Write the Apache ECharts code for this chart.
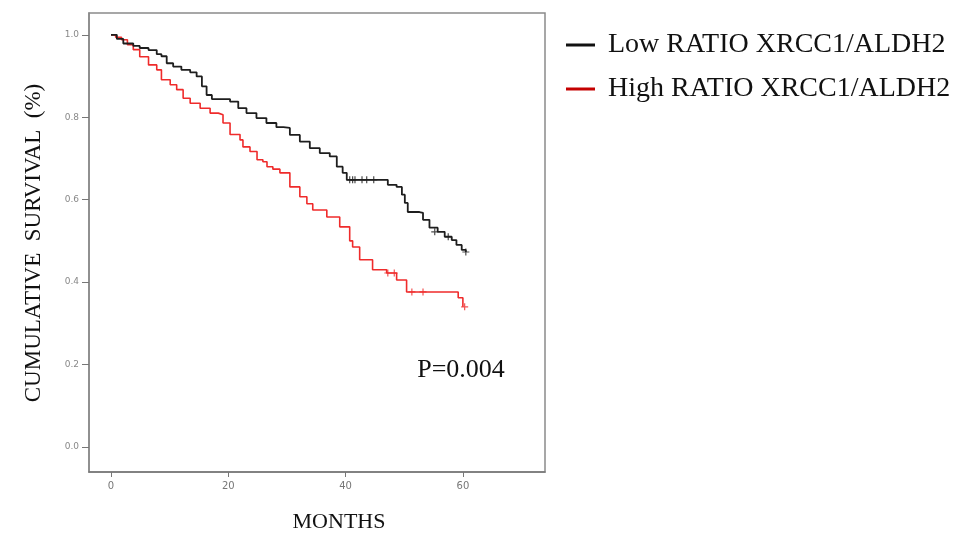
<!DOCTYPE html>
<html>
<head>
<meta charset="utf-8">
<script src="https://cdn.jsdelivr.net/npm/echarts@6/dist/echarts.min.js"></script>
<style>
html,body{margin:0;padding:0;background:#fff;}
#chart{width:962px;height:534px;}
</style>
</head>
<body>
<div id="chart"></div>
<script>
// Months (x) and cumulative survival (y)
var lowMonths = [0, 1.0, 2.1, 3.8, 4.9, 6.4, 7.8, 8.6, 9.5, 10.6, 12.0, 13.5, 14.6, 15.5, 16.3, 17.2, 20.3, 21.7, 23.1, 24.8, 26.5, 28.2, 29.4, 30.5, 32.2, 33.9, 35.6, 37.3, 38.5, 39.5, 40.2, 47.2, 48.7, 49.6, 50.1, 50.6, 52.6, 53.2, 54.3, 55.7, 56.9, 58.1, 58.9, 59.8, 60.5];
var lowSurv   = [1.0, 0.990, 0.979, 0.973, 0.968, 0.963, 0.953, 0.948, 0.931, 0.923, 0.915, 0.909, 0.899, 0.875, 0.854, 0.844, 0.838, 0.822, 0.810, 0.798, 0.786, 0.776, 0.774, 0.757, 0.741, 0.725, 0.713, 0.705, 0.680, 0.665, 0.648, 0.636, 0.631, 0.612, 0.592, 0.570, 0.568, 0.551, 0.532, 0.522, 0.510, 0.502, 0.490, 0.478, 0.473];
var highMonths = [0, 0.8, 1.8, 2.8, 3.8, 4.9, 6.4, 7.8, 8.6, 10.1, 11.2, 12.3, 13.5, 15.2, 16.9, 18.3, 19.1, 20.3, 22.0, 22.5, 23.7, 24.9, 25.9, 26.6, 27.6, 28.8, 30.5, 32.2, 33.4, 34.4, 36.8, 39.0, 40.7, 41.2, 42.4, 44.6, 47.0, 48.7, 50.4, 59.2, 60.0];
var highSurv   = [1.0, 0.994, 0.988, 0.976, 0.964, 0.947, 0.927, 0.915, 0.891, 0.879, 0.867, 0.846, 0.834, 0.822, 0.810, 0.806, 0.786, 0.758, 0.745, 0.728, 0.717, 0.697, 0.692, 0.680, 0.674, 0.665, 0.631, 0.607, 0.590, 0.575, 0.558, 0.534, 0.500, 0.485, 0.454, 0.430, 0.422, 0.405, 0.376, 0.362, 0.340];
// Censored observations
var lowCensMonths = [40.7, 41.2, 41.6, 42.8, 43.6, 44.8, 55.2, 57.5, 60.5];
var lowCensSurv   = [0.648, 0.648, 0.648, 0.648, 0.648, 0.648, 0.522, 0.510, 0.473];
var highCensMonths = [47.2, 48.3, 51.3, 53.2, 60.3];
var highCensSurv   = [0.422, 0.422, 0.376, 0.376, 0.340];
var xTicks = [0, 20, 40, 60];
var yTicks = [0, 0.2, 0.4, 0.6, 0.8, 1.0];
var seriesNames = ['Low RATIO XRCC1/ALDH2', 'High RATIO XRCC1/ALDH2'];

function pairs(xs, ys){ return xs.map(function(x,i){ return [x, ys[i]]; }); }

var BLACK = '#1e1e1e', RED = '#ef2b2b';
var plus = 'path://M0,5L10,5M5,0L5,10';
var chart = echarts.init(document.getElementById('chart'), null, {renderer:'canvas'});
chart.setOption({
  animation: false,
  backgroundColor: '#fff',
  grid: {left: 89, right: 417, top: 13, bottom: 62, show: true, borderColor: '#8a8a8a', borderWidth: 1.5},
  legend: {
    orient: 'vertical', left: 561, top: 26, itemGap: 16,
    itemWidth: 29, itemHeight: 3, icon: 'rect',
    data: [{name: seriesNames[0], itemStyle:{color:'#111'}}, {name: seriesNames[1], itemStyle:{color:'#c40000'}}],
    textStyle: {fontFamily: 'Liberation Serif', fontSize: 28, color: '#111', padding:[0,0,0,8]}
  },
  xAxis: {
    type: 'value', min: -3.75, max: 74,
    axisLine: {show: true, onZero: false, lineStyle: {color: '#777', width: 1.5}},
    axisTick: {show: true, customValues: xTicks, length: 5, lineStyle:{color:'#777'}},
    axisLabel: {customValues: xTicks, color: '#777', fontSize: 10, margin: 9, fontFamily:'DejaVu Sans'},
    splitLine: {show: false}
  },
  yAxis: {
    type: 'value', min: -0.061, max: 1.053,
    axisLine: {show: true, onZero: false, lineStyle: {color: '#888', width: 1.5}},
    axisTick: {show: true, customValues: yTicks, length: 7, lineStyle:{color:'#777'}},
    axisLabel: {customValues: yTicks, color: '#888', fontSize: 9, margin: 10, fontFamily:'DejaVu Sans',
      formatter: function(v){ return v.toFixed(1); }},
    splitLine: {show: false}
  },
  graphic: [
    {type:'text', x: 34, y: 243, rotation: Math.PI/2,
     style:{text:'CUMULATIVE  SURVIVAL  (%)', font:'23px "Liberation Serif"', fill:'#111', align:'center', verticalAlign:'middle'}},
    {type:'text', x: 339, y: 522,
     style:{text:'MONTHS', font:'22px "Liberation Serif"', fill:'#111', align:'center', verticalAlign:'middle'}},
    {type:'text', x: 461, y: 370,
     style:{text:'P=0.004', font:'26px "Liberation Serif"', fill:'#111', align:'center', verticalAlign:'middle'}}
  ],
  series: [
    {name: seriesNames[0], type:'line', step:'end', data: pairs(lowMonths, lowSurv), symbol:'none',
     lineStyle:{color: BLACK, width: 1.8}, itemStyle:{color:'#111'}, z: 3},
    {name: seriesNames[1], type:'line', step:'end', data: pairs(highMonths, highSurv), symbol:'none',
     lineStyle:{color: RED, width: 1.6}, itemStyle:{color:'#c40000'}, z: 2},
    {name: seriesNames[0], type:'scatter', data: pairs(lowCensMonths, lowCensSurv), symbol: plus, symbolSize: 7,
     itemStyle:{color:'none', borderColor: BLACK, borderWidth: 1.2}, z: 3},
    {name: seriesNames[1], type:'scatter', data: pairs(highCensMonths, highCensSurv), symbol: plus, symbolSize: 7,
     itemStyle:{color:'none', borderColor: RED, borderWidth: 1.2}, z: 2}
  ]
});
</script>
</body>
</html>
